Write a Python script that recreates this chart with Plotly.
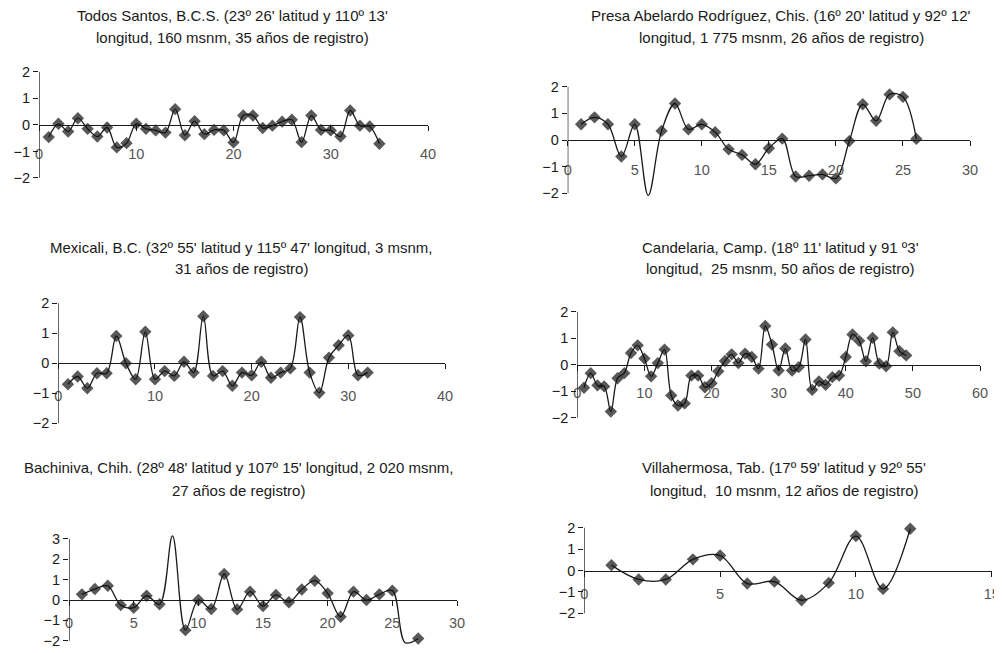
import plotly.graph_objects as go

# ---------------- data ----------------
ts_vals = [-0.46, 0.04, -0.25, 0.25, -0.15, -0.44, -0.10, -0.85, -0.69, 0.04,
           -0.15, -0.21, -0.29, 0.59, -0.39, 0.14, -0.35, -0.19, -0.21, -0.66,
           0.35, 0.35, -0.12, -0.03, 0.12, 0.19, -0.65, 0.35, -0.19, -0.21,
           -0.44, 0.54, -0.03, -0.06, -0.71]
presa_vals = [0.59, 0.85, 0.59, -0.62, 0.59, -2.08, 0.34, 1.37, 0.40, 0.59,
              0.29, -0.35, -0.56, -0.91, -0.31, 0.05, -1.37, -1.34, -1.29, -1.44,
              -0.04, 1.34, 0.72, 1.71, 1.62, 0.04]
mexi_vals = [-0.70, -0.44, -0.83, -0.33, -0.33, 0.91, 0.0, -0.53, 1.05, -0.53,
             -0.26, -0.42, 0.05, -0.31, 1.57, -0.42, -0.26, -0.75, -0.31, -0.40,
             0.05, -0.48, -0.31, -0.17, 1.54, -0.31, -0.98, 0.19, 0.60, 0.93,
             -0.40, -0.31]
cand_vals = [-0.87, -0.32, -0.78, -0.82, -1.77, -0.51, -0.32, 0.44, 0.73, 0.23,
             -0.44, 0.06, 0.57, -1.16, -1.54, -1.46, -0.41, -0.41, -0.85, -0.70,
             -0.25, 0.14, 0.39, 0.06, 0.42, 0.29, -0.15, 1.46, 0.76, -0.22,
             0.61, -0.22, -0.09, 0.95, -0.95, -0.63, -0.76, -0.47, -0.41, 0.29,
             1.14, 0.90, 0.13, 1.01, 0.04, -0.06, 1.22, 0.51, 0.35]
bach_vals = [0.28, 0.54, 0.70, -0.25, -0.38, 0.21, -0.21, 3.15, -1.48, 0.0,
             -0.44, 1.28, -0.46, 0.41, -0.30, 0.25, -0.11, 0.52, 0.95, 0.33,
             -0.82, 0.41, 0.0, 0.28, 0.46, -2.1, -1.89]
villa_vals = [0.25, -0.42, -0.42, 0.52, 0.70, -0.61, -0.52, -1.39, -0.58, 1.61,
              -0.86, 1.95]

titles = [
    ("Todos Santos, B.C.S. (23º 26' latitud y 110º 13'",
     "longitud, 160 msnm, 35 años de registro)"),
    ("Presa Abelardo Rodríguez, Chis. (16º 20' latitud y 92º 12'",
     "longitud, 1 775 msnm, 26 años de registro)"),
    ("Mexicali, B.C. (32º 55' latitud y 115º 47' longitud, 3 msnm,",
     "31 años de registro)"),
    ("Candelaria, Camp. (18º 11' latitud y 91 º3'",
     "longitud,  25 msnm, 50 años de registro)"),
    ("Bachiniva, Chih. (28º 48' latitud y 107º 15' longitud, 2 020 msnm,",
     "27 años de registro)"),
    ("Villahermosa, Tab. (17º 59' latitud y 92º 55'",
     "longitud,  10 msnm, 12 años de registro)"),
]
series = [ts_vals, presa_vals, mexi_vals, cand_vals, bach_vals, villa_vals]
x_max = [40, 30, 40, 60, 30, 15]
x_dtick = [10, 5, 10, 10, 5, 5]
y_min = [-2, -2, -2, -2, -2, -2]
y_max = [2, 2, 2, 2, 3, 2]

# ---------------- layout (screen pixels) ----------------
OFF = 8                      # page body margin of the browser
W, H = 1002 - OFF, 653 - OFF  # figure fits the window exactly
# (left, right, top, bottom) screen-pixel box of each plot area
boxes = [
    (39, 428, 71.7, 178),
    (567.7, 970, 86.7, 193.3),
    (58.3, 445, 303.3, 423.3),
    (577.3, 980, 311.7, 417.7),
    (69, 457, 539, 640.7),
    (584.3, 991.7, 527.7, 613.3),
]
# title centre x and line y positions (screen px)
title_pos = [
    (232, 15, 37), (781, 15, 37),
    (241, 247, 268), (780, 247, 268),
    (238, 467, 490), (784, 467, 490),
]
EXT = 0.3  # extra room so smoothed curves may overshoot the axis ends


def fx(px):
    return (px - OFF) / W


def fy(py):
    return 1 - (py - OFF) / H


INK = "#1a1a1a"
fig = go.Figure()
layout = dict(
    width=W, height=H,
    margin=dict(l=0, r=0, t=0, b=0, pad=0, autoexpand=False),
    paper_bgcolor="white", plot_bgcolor="white",
    showlegend=False,
    font=dict(family="Liberation Sans, Arial, sans-serif", size=14, color=INK),
)
annotations = []
shapes = []

for i, vals in enumerate(series):
    n = i + 1
    xs = list(range(1, len(vals) + 1))
    sfx = "" if n == 1 else str(n)
    ymn, ymx = y_min[i], y_max[i]
    sizes = [9.5 if ymn <= v <= ymx else 0 for v in vals]
    fig.add_trace(go.Scatter(
        x=xs, y=vals, mode="lines+markers",
        line=dict(color=INK, width=1.3, shape="spline", smoothing=1.0),
        marker=dict(symbol="diamond", size=sizes, color="#111111",
                    line=dict(width=0)),
        xaxis="x" + sfx, yaxis="y" + sfx, cliponaxis=True,
    ))
    l, r, t, b = boxes[i]
    ppu = (b - t) / (ymx - ymn)
    zero_px = t + ymx * ppu
    t_ext, b_ext = t - EXT * ppu, b + EXT * ppu
    layout["xaxis" + sfx] = dict(
        domain=[fx(l), fx(r)], range=[0, x_max[i]], dtick=x_dtick[i], tick0=0,
        anchor="free", position=fy(zero_px),
        showline=True, linecolor=INK, linewidth=1.3,
        ticks="outside", ticklen=5, tickcolor=INK, tickwidth=1.3,
        showgrid=False, zeroline=False,
        tickfont=dict(color="#555555", size=14.5),
        ticklabelstandoff=max(0, int(round(ppu - 16))),
    )
    layout["yaxis" + sfx] = dict(
        domain=[fy(b_ext), fy(t_ext)],
        range=[ymn - EXT, ymx + EXT],
        tickvals=list(range(ymn, ymx + 1)),
        anchor="x" + sfx,
        showline=False,
        ticks="outside", ticklen=5, tickcolor=INK, tickwidth=1.3,
        showgrid=False, zeroline=False,
        tickfont=dict(color=INK, size=14.5),
    )
    shapes.append(dict(
        type="line", xref="x" + sfx, yref="y" + sfx,
        x0=0, x1=0, y0=ymn, y1=ymx,
        line=dict(color=INK, width=1.3),
    ))
    cx, y1, y2 = title_pos[i]
    for txt, yy in ((titles[i][0], y1), (titles[i][1], y2)):
        annotations.append(dict(
            text=txt, xref="paper", yref="paper", x=fx(cx), y=fy(yy),
            xanchor="center", yanchor="middle", showarrow=False,
            font=dict(size=15, color=INK),
        ))

layout["annotations"] = annotations
layout["shapes"] = shapes
fig.update_layout(**layout)
fig.write_html("out.html")
